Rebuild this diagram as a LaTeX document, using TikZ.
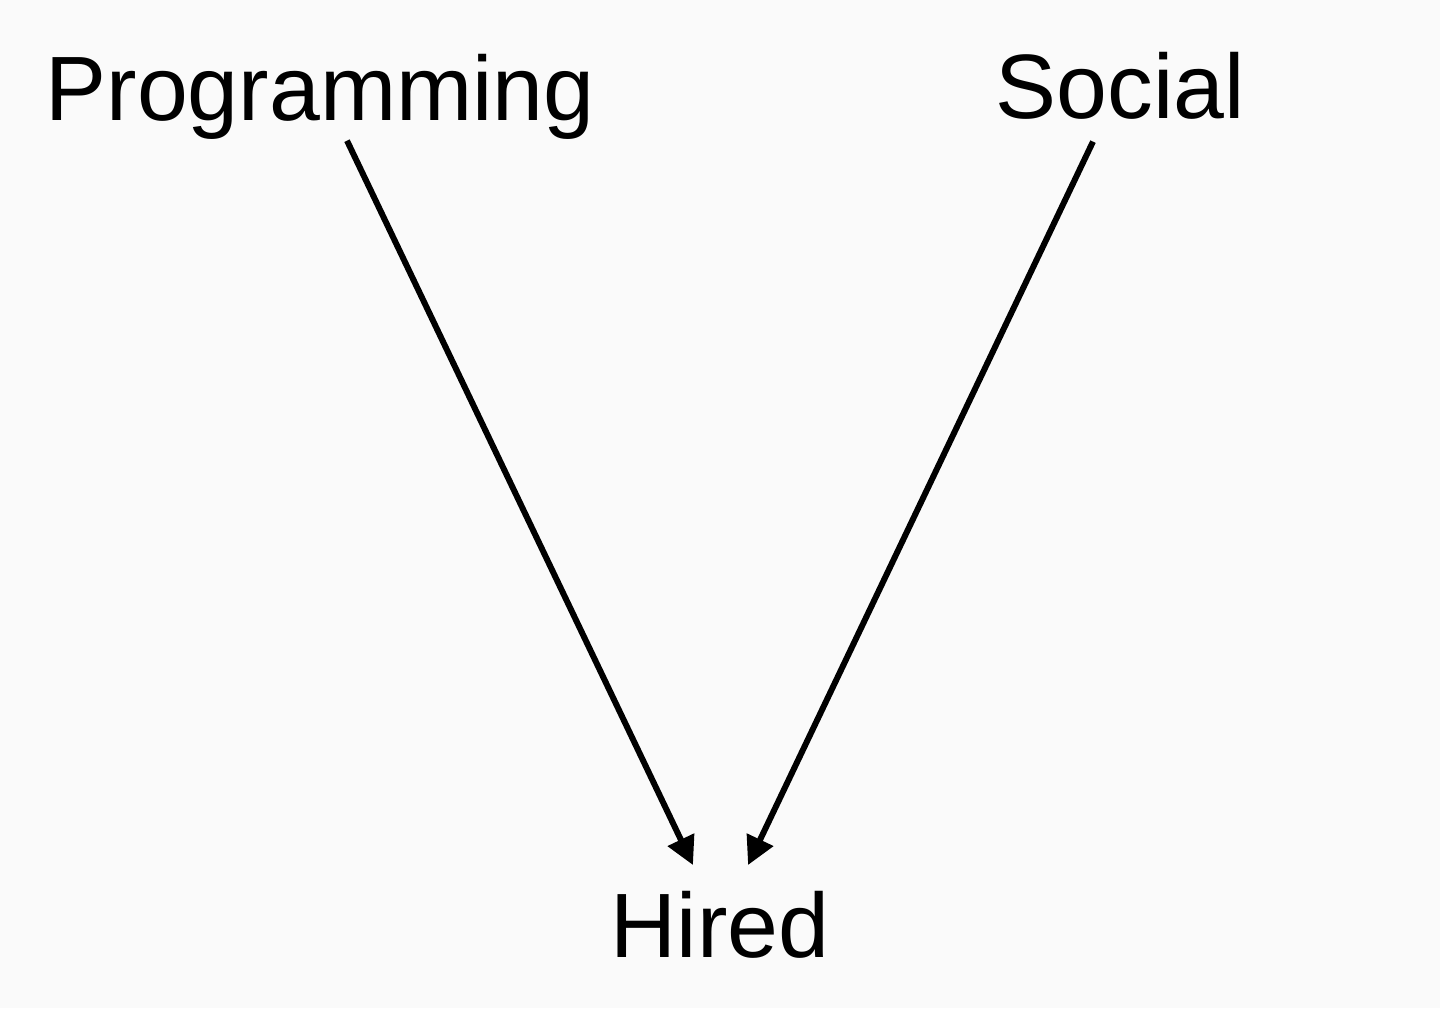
\documentclass[tikz,border=0pt]{standalone}
\usepackage{fontspec}
\setmainfont{Liberation Sans}
\usetikzlibrary{arrows.meta}
\definecolor{bg}{HTML}{FAFAFA}
\begin{document}
\begin{tikzpicture}[x=0.01cm,y=-0.01cm,
  lbl/.style={inner sep=0pt,anchor=base,font=\fontsize{26pt}{30pt}\selectfont},
  arr/.style={line width=1.7pt,-{Triangle[length=8pt,width=8pt]}}]
\fill[bg] (0,0) rectangle (1440,1008);
\useasboundingbox (0,0) rectangle (1440,1008);
\node[lbl] (prog) at (320,120) {Programming};
\node[lbl] (soc) at (1120,118) {Social};
\node[lbl] (hired) at (720,957) {Hired};
\draw[arr] ([xshift=0.27cm,yshift=-0.01cm]prog.south) -- ([xshift=-0.27cm,yshift=0.25cm]hired.north);
\draw[arr] ([xshift=-0.27cm,yshift=-0.22cm]soc.south) -- ([xshift=0.28cm,yshift=0.25cm]hired.north);
\end{tikzpicture}
\end{document}
